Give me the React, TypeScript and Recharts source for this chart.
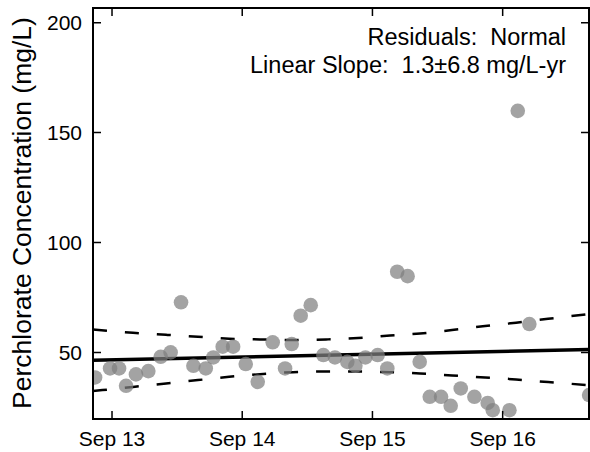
import React from "react";
import { ComposedChart, Scatter, Line, XAxis, YAxis, Customized } from "recharts";

// years after Sep 2013
const yearTicks = [0, 1, 2, 3];
const yearLabels = ["Sep 13", "Sep 14", "Sep 15", "Sep 16"];
const concTicks = [50, 100, 150, 200];

const sampleYears = [
  -0.13, -0.015, 0.054, 0.108, 0.184, 0.279, 0.374, 0.45, 0.53, 0.625, 0.72, 0.778, 0.85, 0.93,
  1.027, 1.119, 1.234, 1.329, 1.38, 1.449, 1.526, 1.623, 1.712, 1.807, 1.869, 1.946, 2.04, 2.114,
  2.19, 2.27, 2.363, 2.44, 2.527, 2.601, 2.678, 2.783, 2.885, 2.924, 3.052, 3.116, 3.205, 3.664,
];
const sampleConc = [
  38.6, 42.7, 42.7, 34.8, 40, 41.5, 48, 50, 72.8, 43.9, 42.7, 47.7, 52.6, 52.6,
  44.7, 36.6, 54.6, 42.7, 53.8, 66.7, 71.5, 48.8, 47.7, 45.7, 43.9, 47.7, 48.8, 42.7,
  86.7, 84.7, 45.7, 29.8, 29.8, 25.7, 33.6, 29.8, 27, 23.7, 23.7, 159.9, 62.9, 30.6,
];

const fitYears = [-0.146, 3.664];
const fitConc = [46.4, 51.3];

const bandYears = [-0.146, 0.161, 0.415, 0.66, 0.9, 1.137, 1.39, 1.644, 1.889, 2.135, 2.366, 2.611, 2.865, 3.103, 3.349, 3.664];
const upperBand = [60.4, 58.9, 58.0, 57.1, 56.2, 55.9, 55.6, 55.9, 56.5, 57.7, 58.6, 60.2, 62.0, 63.5, 65.3, 67.4];
const lowerBand = [32.4, 34.3, 35.9, 37.4, 38.9, 40.1, 41.0, 41.3, 41.3, 41.0, 40.4, 39.5, 38.6, 37.7, 36.5, 35.1];

const samples = sampleYears.map((t, i) => ({ t, v: sampleConc[i] }));
const fit = fitYears.map((t, i) => ({ t, v: fitConc[i] }));
const band = bandYears.map((t, i) => ({ t, hi: upperBand[i], lo: lowerBand[i] }));

const xDomain = [-0.146, 3.663];
const yDomain = [19.7, 206.7];
const font = "'Liberation Sans', Arial, sans-serif";

// plot box edges in px (margins + axis sizes below)
const box = { left: 93, right: 589, top: 8, bottom: 419 };
const tickLen = 8;

const BottomTick = (p: any) => (
  <g>
    <path d={`M${p.x},${box.bottom}V${box.bottom - tickLen}M${p.x},${box.top}V${box.top + tickLen}`} stroke="#000" strokeWidth={1.5} fill="none" />
    <text x={p.x} y={box.bottom + 27} textAnchor="middle" fontSize={21} fontFamily={font} fill="#000">
      {yearLabels[yearTicks.indexOf(p.payload.value)]}
    </text>
  </g>
);

const LeftTick = (p: any) => (
  <g>
    <path d={`M${box.left},${p.y}H${box.left + tickLen}M${box.right},${p.y}H${box.right - tickLen}`} stroke="#000" strokeWidth={1.5} fill="none" />
    <text x={box.left - 11} y={p.y} dy="0.355em" textAnchor="end" fontSize={21} fontFamily={font} fill="#000">
      {p.payload.value}
    </text>
  </g>
);

const Dot = (p: any) => <circle cx={p.cx} cy={p.cy} r={7.3} fill="#808080" fillOpacity={0.72} />;

const YLabel = () => (
  <text transform="translate(31,213) rotate(-90)" textAnchor="middle" fontSize={26.5} fontFamily={font} fill="#000">
    Perchlorate Concentration (mg/L)
  </text>
);

const Notes = () => (
  <g fontFamily={font} fontSize={23.5} fill="#000">
    <text x={566} y={45} textAnchor="end">{"Residuals:\u00a0 Normal"}</text>
    <text x={566} y={73} textAnchor="end">{"Linear Slope:\u00a0 1.3±6.8 mg/L-yr"}</text>
  </g>
);

export default function App() {
  return (
    <div style={{ position: "absolute", left: 0, top: 0, width: 590, height: 452, background: "#fff" }}>
      <ComposedChart width={590} height={452} margin={{ top: 8, right: 1, bottom: 0, left: 0 }}>
        <XAxis
          dataKey="t"
          type="number"
          domain={xDomain}
          ticks={yearTicks}
          allowDataOverflow
          height={33}
          tick={BottomTick}
          axisLine={{ stroke: "#000", strokeWidth: 2 }}
          tickLine={false}
        />
        <YAxis
          type="number"
          domain={yDomain}
          ticks={concTicks}
          allowDataOverflow
          width={93}
          tick={LeftTick}
          axisLine={{ stroke: "#000", strokeWidth: 2 }}
          tickLine={false}
          label={YLabel}
        />
        <Scatter data={samples} dataKey="v" shape={Dot} isAnimationActive={false} />
        <Line data={fit} dataKey="v" type="linear" stroke="#000" strokeWidth={3.5} dot={false} activeDot={false} isAnimationActive={false} />
        <Line data={band} dataKey="hi" type="monotone" stroke="#000" strokeWidth={2.5} strokeDasharray="14 18" dot={false} activeDot={false} isAnimationActive={false} />
        <Line data={band} dataKey="lo" type="monotone" stroke="#000" strokeWidth={2.5} strokeDasharray="14 18" dot={false} activeDot={false} isAnimationActive={false} />
        <Customized component={Notes} />
      </ComposedChart>
      {/* plot frame, laid over the chart */}
      <div
        style={{
          position: "absolute",
          left: box.left - 1,
          top: box.top - 1,
          width: box.right - box.left - 2,
          height: box.bottom - box.top - 2,
          border: "2px solid #000",
          pointerEvents: "none",
        }}
      />
    </div>
  );
}
